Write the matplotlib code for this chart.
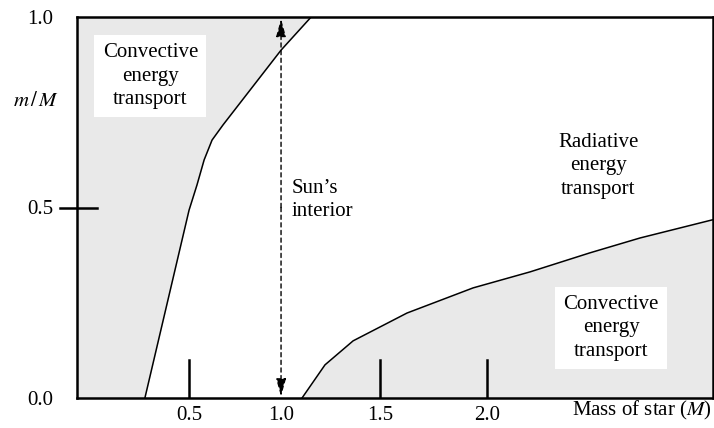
import numpy as np
import matplotlib.pyplot as plt
from matplotlib.scale import FuncScale

plt.rcParams['font.family'] = ['Liberation Serif', 'DejaVu Serif']

# Boundary of convective envelope (left region) : mass of star vs m/M
envMass = [0.26, 0.50, 0.543, 0.582, 0.625, 0.685, 1.00, 1.152]
envFrac = [0.0, 0.493, 0.559, 0.625, 0.677, 0.717, 0.913, 1.0]

# Boundary of convective core (right region)
coreMass = [1.106, 1.222, 1.364, 1.626, 1.935, 2.201, 2.481, 2.715, 3.056]
coreFrac = [0.0, 0.087, 0.150, 0.223, 0.289, 0.331, 0.381, 0.420, 0.468]

xTicks = [0.5, 1.0, 1.5, 2.0]
xTickLabels = ['0.5', '1.0', '1.5', '2.0']
yTicks = [0.0, 0.5, 1.0]
yTickLabels = ['0.0', '0.5', '1.0']
sunMass = 1.0

# the drawing is schematic: tick spacing is not quite even, so map it piecewise
scaleData = [-2.0, 0.5, 1.0, 1.5, 2.0, 5.0]
scalePos = [0.5 - 2.5 * 0.92, 0.5, 0.96, 1.455, 1.99, 1.99 + 3.0 * 1.07]

def fwd(v):
    return np.interp(v, scaleData, scalePos)

def inv(v):
    return np.interp(v, scalePos, scaleData)

xmin, xmax = -0.109, 3.056
shade = '#e9e9e9'

fig = plt.figure(figsize=(7.14, 4.28), dpi=100)
ax = fig.add_axes([77 / 714, 30 / 428, 636 / 714, 381 / 428])
ax.set_xscale(FuncScale(ax, (fwd, inv)))
ax.set_xlim(xmin, xmax)
ax.set_ylim(0, 1)

# shaded convective regions
ax.fill_betweenx(envFrac + [1.0], [xmin] * (len(envFrac) + 1), envMass + [envMass[-1]],
                 color=shade, lw=0)
ax.fill_between(coreMass, 0, coreFrac, color=shade, lw=0)
ax.plot(envMass, envFrac, color='black', lw=1.1)
ax.plot(coreMass, coreFrac, color='black', lw=1.1)

# inside tick marks on the mass axis (no mark at 1.0, the arrow sits there)
for t in xTicks:
    if t != sunMass:
        ax.plot([t, t], [0, 0.1], color='black', lw=1.8)
ax.plot([xmin - 0.09, xmin + 0.11], [0.5, 0.5], color='black', lw=1.8, clip_on=False)

# Sun's interior arrow, heads at both ends
for end in (0.995, 0.004):
    ax.annotate('', xy=(sunMass, end), xytext=(sunMass, 0.5),
                arrowprops=dict(arrowstyle='-|>,head_length=0.9,head_width=0.25',
                                ls=(0, (3, 2.5)), lw=1.0, color='black',
                                mutation_scale=12, shrinkA=0, shrinkB=0))

fs = 15
ls = 1.32
box = dict(facecolor='white', edgecolor='none', pad=6)
ax.text(0.29, 0.845, 'Convective\nenergy\ntransport', ha='center', va='center',
        fontsize=fs, linespacing=ls, bbox=box)
ax.text(2.58, 0.184, 'Convective\nenergy\ntransport', ha='center', va='center',
        fontsize=fs, linespacing=ls, bbox=box)
ax.text(2.52, 0.61, 'Radiative\nenergy\ntransport', ha='center', va='center',
        fontsize=fs, linespacing=ls)
ax.text(1.055, 0.52, "Sun\u2019s\ninterior", ha='left', va='center',
        fontsize=fs, linespacing=ls)

ax.set_xticks(xTicks, xTickLabels)
ax.set_yticks(yTicks, yTickLabels)
ax.tick_params(length=0, labelsize=fs, pad=6)
ax.tick_params(axis='y', pad=17)
fig.text(714 / 714 - 0.003, 1 - 410 / 428, 'Mass of star ($\\mathit{M}$)', ha='right', va='center',
         fontsize=fs, math_fontfamily='stix')
fig.text(36 / 714, 1 - 101 / 428, '$m\\,/\\,M$', ha='center', va='center', fontsize=fs,
         math_fontfamily='stix')

for s in ax.spines.values():
    s.set_linewidth(1.8)

fig.savefig('out.png', dpi=100)
